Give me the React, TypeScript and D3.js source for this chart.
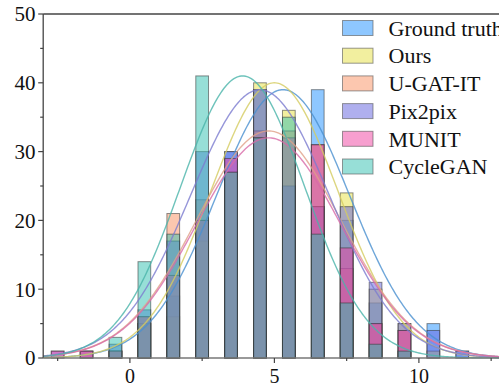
import React from "react";
import * as d3 from "d3";

const binCenters = [-2.5, -1.5, -0.5, 0.5, 1.5, 2.5, 3.5, 4.5, 5.5, 6.5, 7.5, 8.5, 9.5, 10.5, 11.5];

const seriesNames = ["Ground truth", "Ours", "U-GAT-IT", "Pix2pix", "MUNIT", "CycleGAN"];

const gtCounts = [0, 0, 1, 5, 9, 20, 30, 39, 25, 39, 20, 8, 1, 5, 1];
const oursCounts = [0, 0, 1, 5, 6, 17, 27, 40, 36, 22, 24, 10, 5, 1, 0];
const ugatitCounts = [0, 1, 1, 6, 21, 23, 27, 33, 33, 31, 13, 5, 4, 0, 0];
const pix2pixCounts = [1, 1, 2, 7, 17, 30, 30, 39, 25, 22, 22, 11, 5, 4, 1];
const munitCounts = [1, 1, 1, 6, 12, 20, 29, 32, 32, 31, 16, 5, 4, 0, 0];
const cycleganCounts = [0, 0, 3, 14, 18, 41, 27, 32, 35, 18, 8, 2, 1, 0, 0];

// fitted normal curves: mean, sd, peak
const fitMeans = [5.3, 5.0, 4.8, 4.5, 4.8, 3.9];
const fitSds = [2.3, 2.2, 2.5, 2.4, 2.5, 2.15];
const fitPeaks = [39, 40, 33, 39, 32, 41];

const fillColors = ["#1e90ff", "#e6e040", "#fa9060", "#6060dd", "#f040a0", "#30c0b0"];
const lineColors = ["#4a90d0", "#d4cc60", "#e0a088", "#7c7cd0", "#d86aa8", "#4ab4aa"];

const xTicks = [0, 5, 10];
const xMinorTicks = [-2.5, 2.5, 7.5, 12.5];
const yTicks = [0, 10, 20, 30, 40, 50];
const yMinorTicks = [5, 15, 25, 35, 45];

const W = 499;
const H = 387;
const FONT = "'Liberation Serif', 'Times New Roman', Times, serif";

export default function App() {
  const x = d3.scaleLinear().domain([-3, 13]).range([43.2, 505.6]);
  const y = d3.scaleLinear().domain([0, 50]).range([358, 14]);
  const allCounts = [gtCounts, oursCounts, ugatitCounts, pix2pixCounts, munitCounts, cycleganCounts];
  const barHalf = 0.22;
  const xs = d3.range(-3, 13.001, 0.05);
  const line = d3
    .line<[number, number]>()
    .x((d) => x(d[0]))
    .y((d) => y(d[1]))
    .curve(d3.curveLinear);

  return (
    <svg
      width={W}
      height={H}
      style={{ position: "absolute", left: 0, top: 0, background: "#fff", fontFamily: FONT }}
    >
      {allCounts.map((counts, si) => (
        <g key={si}>
          {counts.map((c, i) =>
            c > 0 ? (
              <rect
                key={i}
                x={x(binCenters[i] - barHalf)}
                y={y(c)}
                width={x(binCenters[i] + barHalf) - x(binCenters[i] - barHalf)}
                height={y(0) - y(c)}
                fill={fillColors[si]}
                fillOpacity={0.5}
                stroke="#333"
                strokeOpacity={0.55}
                strokeWidth={1}
              />
            ) : null
          )}
        </g>
      ))}
      {fitMeans.map((m, si) => {
        const pts: [number, number][] = xs.map((v) => [
          v,
          fitPeaks[si] * Math.exp(-((v - m) * (v - m)) / (2 * fitSds[si] * fitSds[si])),
        ]);
        return (
          <path
            key={si}
            d={line(pts) || ""}
            fill="none"
            stroke={lineColors[si]}
            strokeWidth={1.4}
            strokeOpacity={0.8}
          />
        );
      })}
      {/* axes frame */}
      <line x1={x(-3)} x2={W} y1={y(50)} y2={y(50)} stroke="#444" strokeWidth={1.3} />
      <line x1={x(-3)} x2={x(-3)} y1={y(0)} y2={y(50)} stroke="#444" strokeWidth={1.3} />
      <line x1={x(-3)} x2={W} y1={y(0)} y2={y(0)} stroke="#777" strokeWidth={1.3} />
      {yTicks.map((t) => (
        <g key={t}>
          <line x1={x(-3) - 5} x2={x(-3)} y1={y(t)} y2={y(t)} stroke="#444" strokeWidth={1.2} />
          <text x={35.5} y={y(t)} dy="0.35em" textAnchor="end" fontSize={21} fill="#111" style={{ fontFamily: FONT }}>
            {t}
          </text>
        </g>
      ))}
      {yMinorTicks.map((t) => (
        <line key={t} x1={x(-3) - 3} x2={x(-3)} y1={y(t)} y2={y(t)} stroke="#444" strokeWidth={1.2} />
      ))}
      {xTicks.map((t) => (
        <g key={t}>
          <line x1={x(t)} x2={x(t)} y1={y(0)} y2={y(0) + 5} stroke="#444" strokeWidth={1.2} />
          <text x={x(t)} y={383} textAnchor="middle" fontSize={20} fill="#111" style={{ fontFamily: FONT }}>
            {t}
          </text>
        </g>
      ))}
      {xMinorTicks.map((t) => (
        <line key={t} x1={x(t)} x2={x(t)} y1={y(0)} y2={y(0) + 3} stroke="#444" strokeWidth={1.2} />
      ))}
      {/* legend */}
      {seriesNames.map((name, i) => {
        const ly = 20.5 + i * 27.7;
        return (
          <g key={name}>
            <rect
              x={342.5}
              y={ly}
              width={30.5}
              height={15}
              fill={fillColors[i]}
              fillOpacity={0.5}
              stroke="#555"
              strokeOpacity={0.6}
              strokeWidth={1}
            />
            <text x={388.5} y={ly + 7.5} dy="0.35em" fontSize={22} fill="#111" style={{ fontFamily: FONT }}>
              {name}
            </text>
          </g>
        );
      })}
    </svg>
  );
}
